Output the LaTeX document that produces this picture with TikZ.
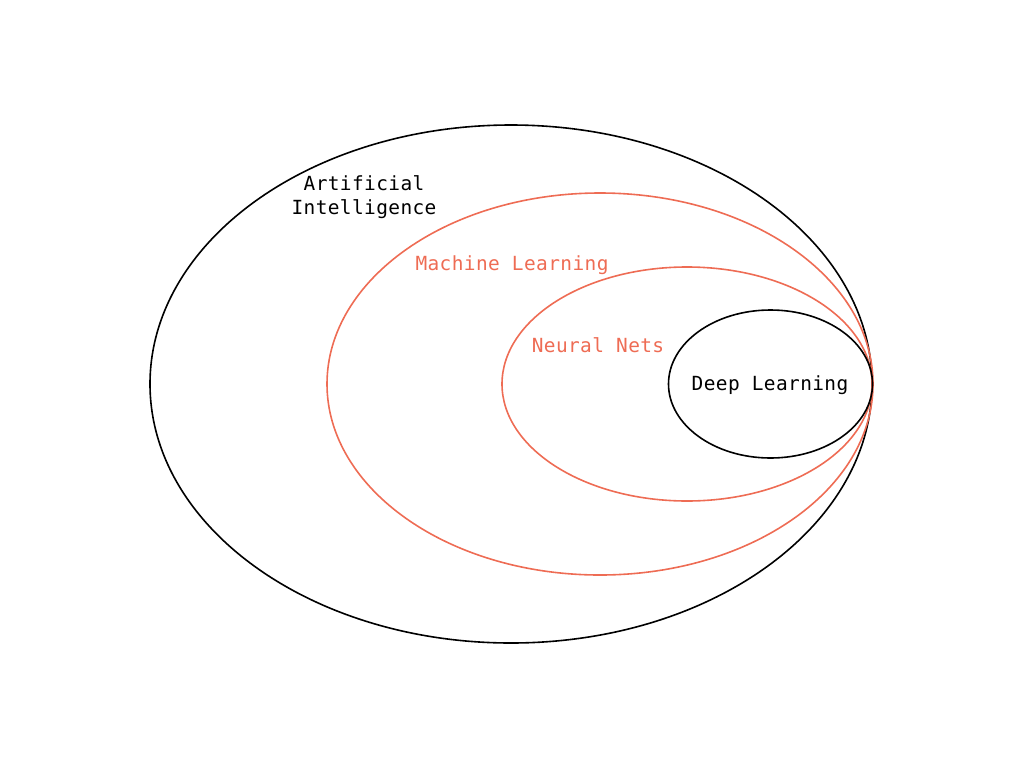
\documentclass[tikz,border=0pt]{standalone}
\usepackage{fontspec}
\newfontfamily\monof[LetterSpace=2]{DejaVu Sans Mono}
\definecolor{coral}{RGB}{238,108,84}
\begin{document}
\begin{tikzpicture}[x=0.75pt,y=-0.75pt,
  ring/.style={line width=1.2pt},
  lbl/.style={font=\monof\fontsize{14.6pt}{18pt}\selectfont, inner sep=0pt, align=center}]
\useasboundingbox (0,0) rectangle (1024,768);
\draw[ring,black] (511,384) ellipse [x radius=270.75pt, y radius=194.25pt];
\draw[ring,coral] (600,384) ellipse [x radius=204.75pt, y radius=143.25pt];
\draw[ring,coral] (687,384) ellipse [x radius=138.75pt, y radius=87.75pt];
\draw[ring,black] (770.5,384) ellipse [x radius=76.5pt, y radius=55.5pt];
\node[lbl] (ai) at (364,197.5) {Artificial\\Intelligence};
\node[lbl,text=coral] (ml) at (512,265.5) {Machine Learning};
\node[lbl,text=coral] (nn) at (598,345.5) {Neural Nets};
\node[lbl] (dl) at (770,385.5) {Deep Learning};
\end{tikzpicture}
\end{document}
